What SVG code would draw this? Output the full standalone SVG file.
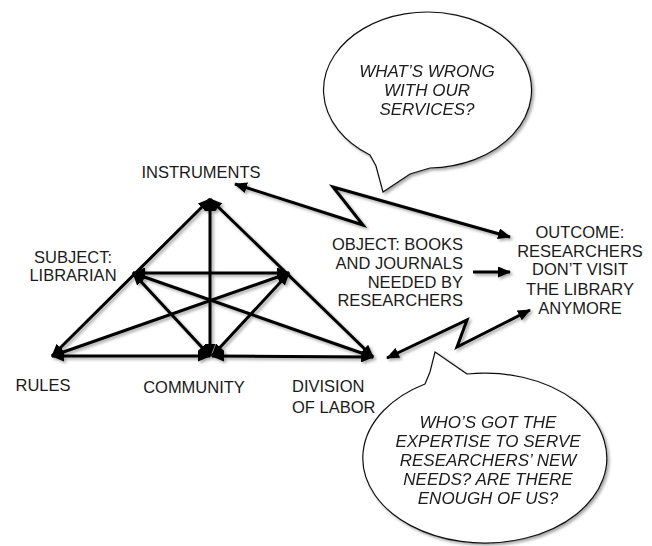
<svg xmlns="http://www.w3.org/2000/svg" width="652" height="546" viewBox="0 0 652 546">
<style>
  .lbl { font-family: "Liberation Sans", Arial, sans-serif; font-size: 16.5px; fill: #1a1a1a; }
  .q { font-family: "Liberation Sans", Arial, sans-serif; font-size: 17px; font-style: italic; fill: #1a1a1a; text-anchor: middle; }
  .c { fill: none; stroke: #000; stroke-width: 3; stroke-linejoin: miter; marker-start: url(#ah); marker-end: url(#ah); }
  .c1 { fill: none; stroke: #000; stroke-width: 3; marker-end: url(#ah); }
  .bub { fill: #fff; stroke: #111; stroke-width: 1.2; stroke-linejoin: miter; }
</style>
<defs>
  <marker id="ah" markerUnits="userSpaceOnUse" markerWidth="13" markerHeight="11" refX="12" refY="5.5" orient="auto-start-reverse">
    <path d="M0,0 L13,5.5 L0,11 z" fill="#000"/>
  </marker>
  <filter id="sh" x="-10%" y="-10%" width="130%" height="130%">
    <feDropShadow dx="2" dy="2" stdDeviation="1.6" flood-color="#000" flood-opacity="0.35"/>
  </filter>
</defs>
<rect width="652" height="546" fill="#fff"/>

<g id="bubble-top" filter="url(#sh)">
  <path class="bub" d="M430,168 L410,174 L383,192 L376,166 L370,155 A104,78 0 1 1 430,168 Z"/>
  <text class="q" x="427" y="77">WHAT’S WRONG</text>
  <text class="q" x="427" y="96">WITH OUR</text>
  <text class="q" x="427" y="115">SERVICES?</text>
</g>

<g id="bubble-bottom" filter="url(#sh)">
  <path class="bub" d="M467,374 L435,352 L430,372 L425,384 A122,85 0 1 0 467,374 Z"/>
  <text class="q" x="488" y="428">WHO’S GOT THE</text>
  <text class="q" x="488" y="447">EXPERTISE TO SERVE</text>
  <text class="q" x="488" y="466">RESEARCHERS’ NEW</text>
  <text class="q" x="488" y="485">NEEDS? ARE THERE</text>
  <text class="q" x="488" y="504">ENOUGH OF US?</text>
</g>

<g id="connectors" filter="url(#sh)">
  <line class="c" x1="210" y1="199" x2="52" y2="356"/>
  <line class="c" x1="210" y1="199" x2="373" y2="357"/>
  <line class="c" x1="210" y1="199" x2="210" y2="356"/>
  <line class="c" x1="133" y1="273" x2="289" y2="273"/>
  <line class="c" x1="52" y1="356" x2="210" y2="356"/>
  <line class="c" x1="212" y1="356" x2="373" y2="357"/>
  <line class="c" x1="133" y1="273" x2="210" y2="356"/>
  <line class="c" x1="133" y1="273" x2="373" y2="357"/>
  <line class="c" x1="289" y1="273" x2="52" y2="356"/>
  <line class="c" x1="289" y1="273" x2="212" y2="356"/>
  <polyline class="c" points="235,184 363,225 333,187 510,237"/>
  <polyline class="c" points="387,358 467,320 457,347 530,310"/>
  <line class="c1" x1="473" y1="272" x2="510" y2="272"/>
</g>

<g id="instruments"><text class="lbl" x="201" y="178" text-anchor="middle">INSTRUMENTS</text></g>
<g id="subject">
  <text class="lbl" x="73" y="263" text-anchor="middle">SUBJECT:</text>
  <text class="lbl" x="73" y="281" text-anchor="middle">LIBRARIAN</text>
</g>
<g id="rules"><text class="lbl" x="43" y="391" text-anchor="middle">RULES</text></g>
<g id="community"><text class="lbl" x="194" y="393" text-anchor="middle">COMMUNITY</text></g>
<g id="division">
  <text class="lbl" x="292" y="392">DIVISION</text>
  <text class="lbl" x="292" y="413">OF LABOR</text>
</g>
<g id="object" text-anchor="end">
  <text class="lbl" x="463" y="250">OBJECT: BOOKS</text>
  <text class="lbl" x="463" y="269">AND JOURNALS</text>
  <text class="lbl" x="463" y="288">NEEDED BY</text>
  <text class="lbl" x="463" y="306">RESEARCHERS</text>
</g>
<g id="outcome" text-anchor="middle">
  <text class="lbl" x="580" y="238">OUTCOME:</text>
  <text class="lbl" x="580" y="257">RESEARCHERS</text>
  <text class="lbl" x="580" y="275">DON’T VISIT</text>
  <text class="lbl" x="580" y="295">THE LIBRARY</text>
  <text class="lbl" x="580" y="314">ANYMORE</text>
</g>
</svg>
